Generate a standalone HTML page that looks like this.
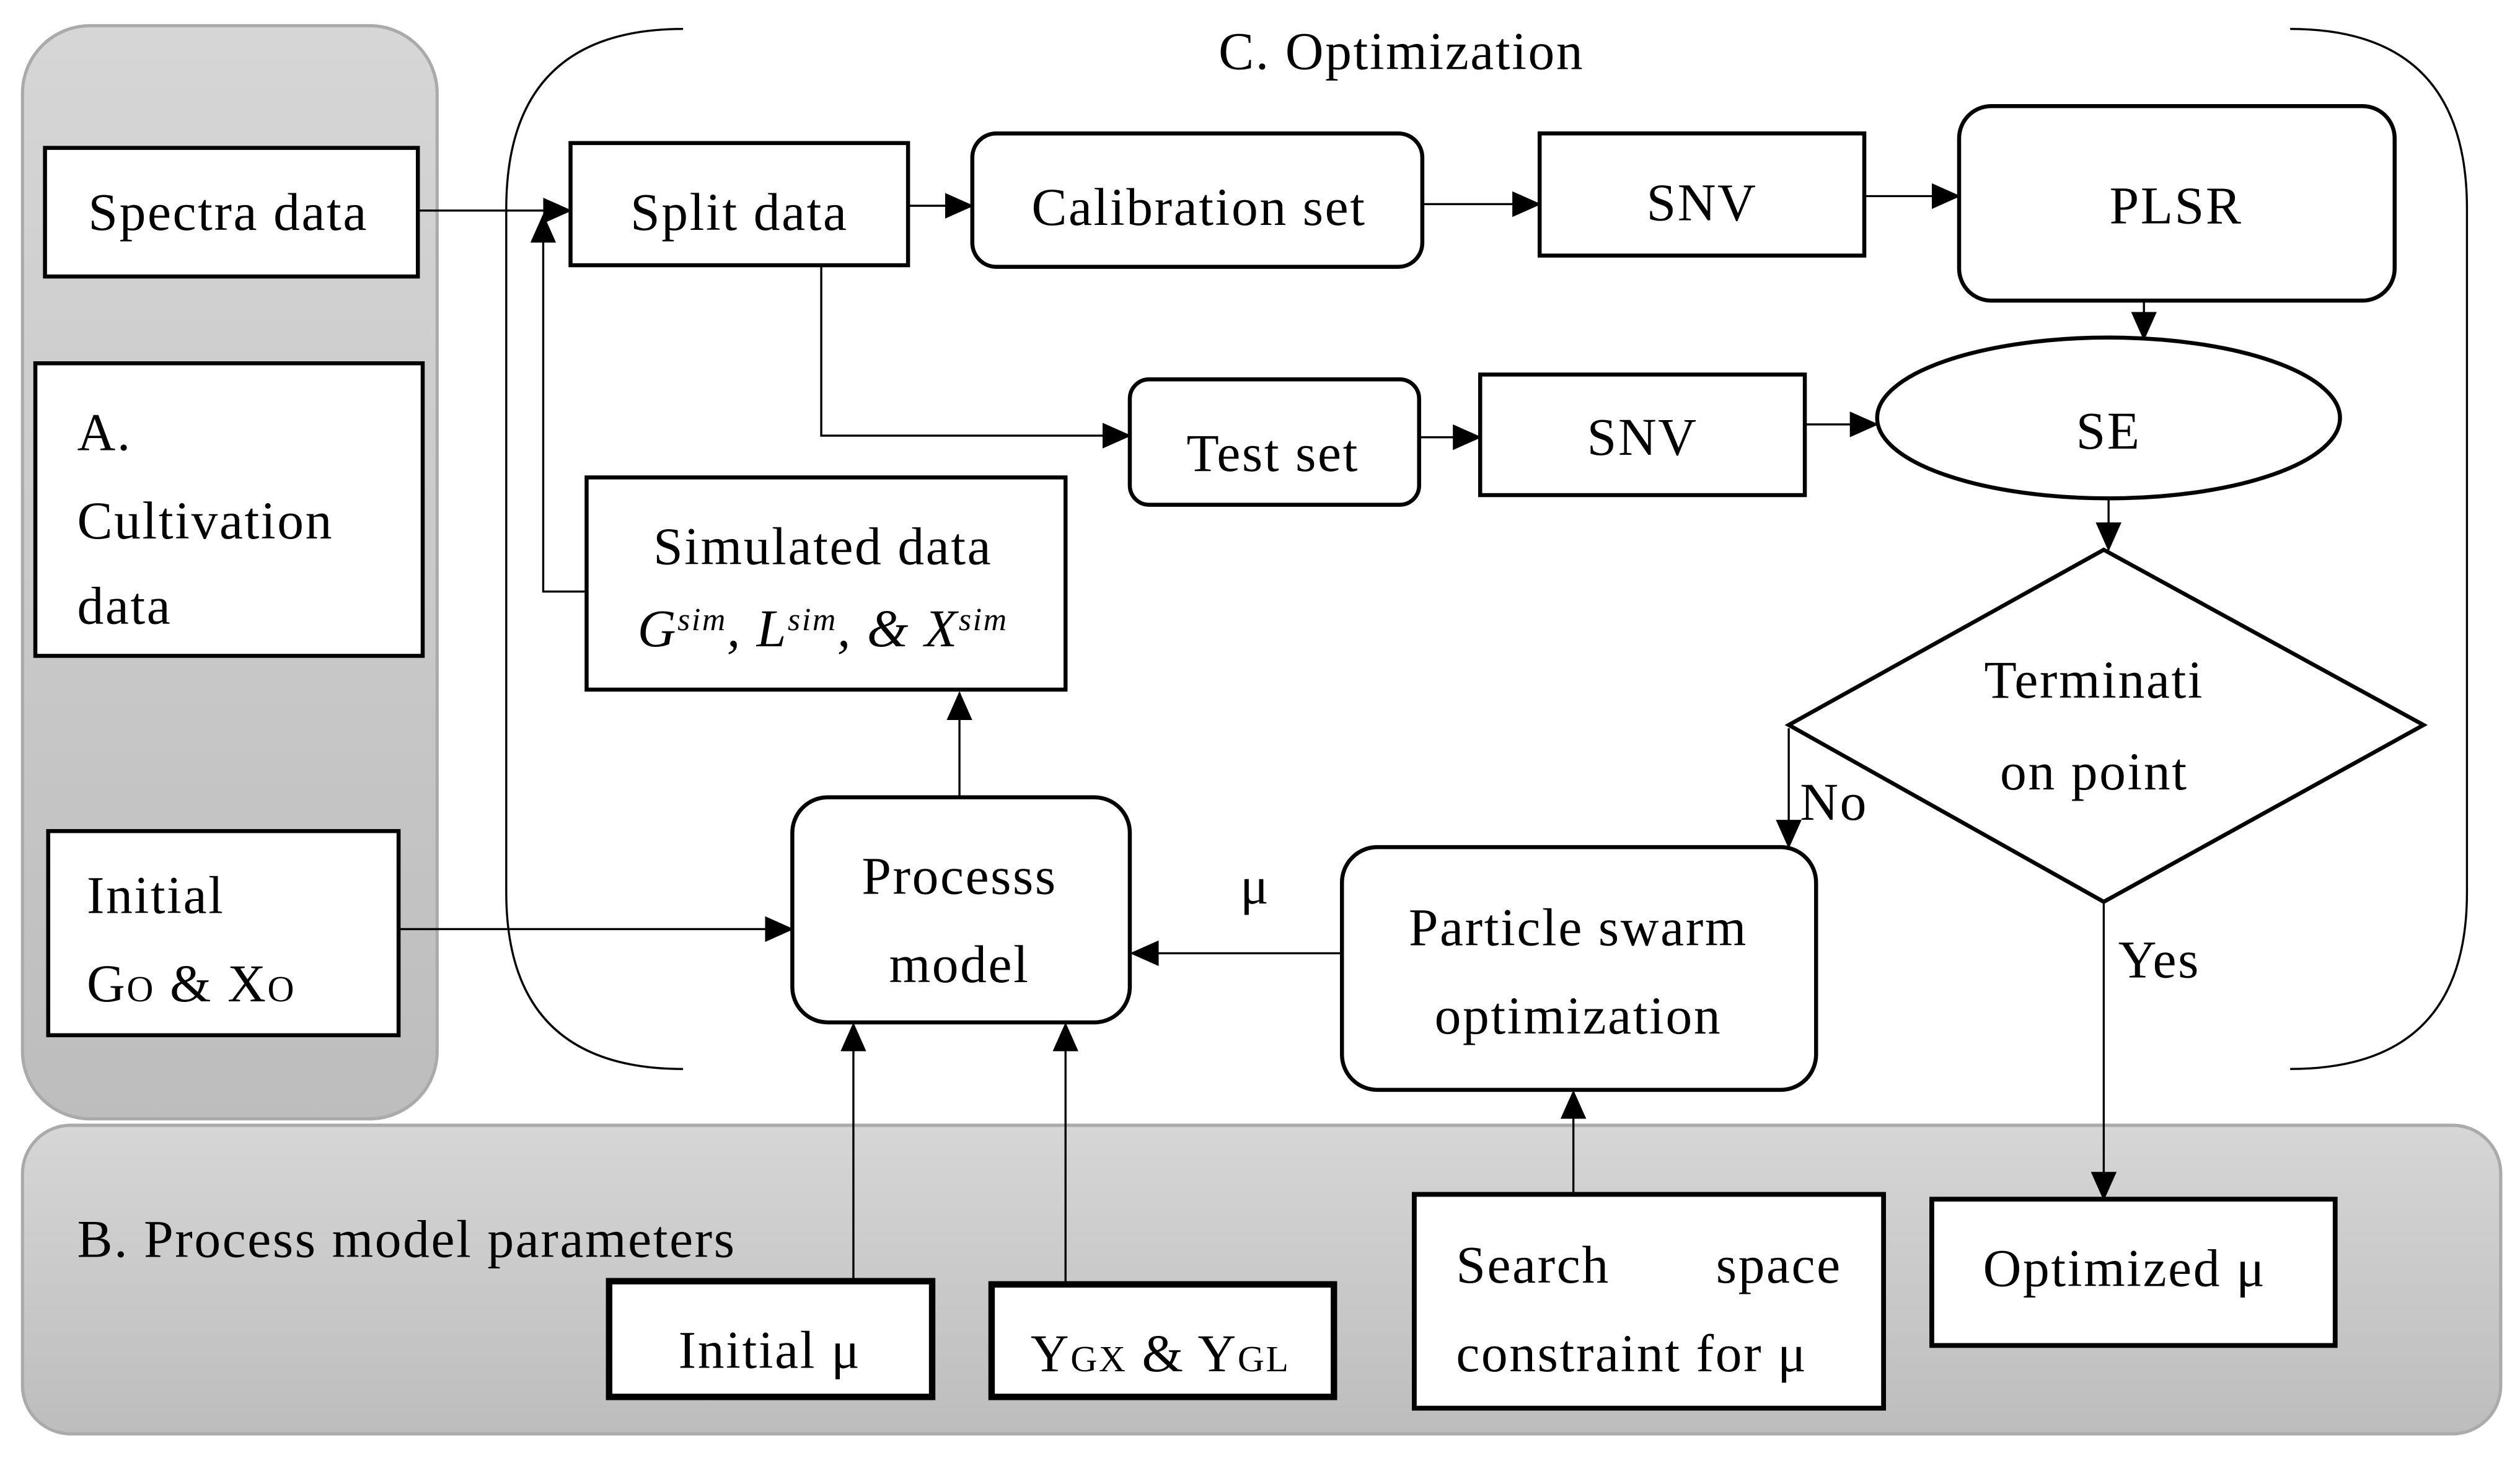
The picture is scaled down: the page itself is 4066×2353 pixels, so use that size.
<!DOCTYPE html>
<html><head><meta charset="utf-8"><style>
html,body{margin:0;padding:0;background:#fff}
svg{display:block}
text{font-family:"Liberation Serif",serif;font-size:33px;letter-spacing:1px;fill:#000}
</style></head><body>
<svg width="4066" height="2353" viewBox="0 0 1568 907" preserveAspectRatio="none" xmlns="http://www.w3.org/2000/svg">
<defs>
<linearGradient id="g" x1="0" y1="0" x2="0" y2="1"><stop offset="0" stop-color="#d6d6d6"/><stop offset="1" stop-color="#bdbdbd"/></linearGradient>
<marker id="a" markerUnits="userSpaceOnUse" markerWidth="18" markerHeight="16" refX="17" refY="8" orient="auto"><path d="M0,0 L18,8 L0,16 Z" fill="#000"/></marker>
</defs>
<rect x="14" y="16" width="258" height="680" rx="42" fill="url(#g)" stroke="#aaa" stroke-width="2"/>
<rect x="14" y="700" width="1542" height="192" rx="30" fill="url(#g)" stroke="#aaa" stroke-width="2"/>
<g fill="none" stroke="#000" stroke-width="1.3">
<path d="M425,18 Q315,18 315,130 L315,555 Q315,665 425,665"/>
<path d="M1425,18 Q1535,18 1535,130 L1535,555 Q1535,665 1425,665"/>
</g>
<g fill="#fff" stroke="#000" stroke-width="2.5">
<rect x="28" y="92" width="232" height="80"/>
<rect x="22" y="226" width="241" height="182"/>
<rect x="30" y="517" width="218" height="127"/>
<rect x="355" y="89" width="210" height="76"/>
<rect x="605" y="83" width="280" height="83" rx="15"/>
<rect x="958" y="83" width="202" height="76"/>
<rect x="1219" y="66" width="271" height="121" rx="20"/>
<rect x="703" y="236" width="180" height="78" rx="12"/>
<rect x="921" y="233" width="202" height="75"/>
<ellipse cx="1312" cy="260" rx="144" ry="50"/>
<path d="M1309,342 L1508,451 L1309,561 L1113,451 Z"/>
<rect x="365" y="297" width="298" height="132"/>
<rect x="493" y="496" width="210" height="140" rx="22"/>
<rect x="835" y="527" width="295" height="151" rx="22"/>
<rect x="379" y="797" width="201" height="72" stroke-width="4"/>
<rect x="617" y="799" width="213" height="70" stroke-width="4"/>
<rect x="880" y="743" width="292" height="133" stroke-width="3"/>
<rect x="1202" y="746" width="251" height="91" stroke-width="3"/>
</g>
<g fill="none" stroke="#000" stroke-width="1.3" marker-end="url(#a)">
<path d="M260,131 L355,131"/>
<path d="M565,128 L605,128"/>
<path d="M885,127 L958,127"/>
<path d="M1160,122 L1219,122"/>
<path d="M1334,187 L1334,211"/>
<path d="M511,165 L511,271 L703,271"/>
<path d="M883,272 L921,272"/>
<path d="M1123,264 L1168,264"/>
<path d="M1312,310 L1312,342"/>
<path d="M1113,453 L1113,527"/>
<path d="M1309,561 L1309,746"/>
<path d="M835,593 L704,593"/>
<path d="M597,496 L597,431"/>
<path d="M365,368 L338,368 L338,134"/>
<path d="M248,578 L493,578"/>
<path d="M531,797 L531,637"/>
<path d="M663,799 L663,637"/>
<path d="M979,743 L979,679"/>
</g>
<text x="872" y="43" text-anchor="middle">C. Optimization</text>
<text x="142" y="143" text-anchor="middle">Spectra data</text>
<text x="48" y="280">A.</text>
<text x="48" y="335">Cultivation</text>
<text x="48" y="388">data</text>
<text x="54" y="568">Initial</text>
<text x="54" y="623">G<tspan font-size="23">O</tspan> &amp; X<tspan font-size="23">O</tspan></text>
<text x="460" y="143" text-anchor="middle">Split data</text>
<text x="746" y="140" text-anchor="middle">Calibration set</text>
<text x="1059" y="137" text-anchor="middle">SNV</text>
<text x="1354" y="139" text-anchor="middle">PLSR</text>
<text x="792" y="293" text-anchor="middle">Test set</text>
<text x="1022" y="283" text-anchor="middle">SNV</text>
<text x="1312" y="279" text-anchor="middle">SE</text>
<text x="1303" y="434" text-anchor="middle">Terminati</text>
<text x="1303" y="491" text-anchor="middle">on point</text>
<text x="512" y="351" text-anchor="middle">Simulated data</text>
<text x="512" y="402" text-anchor="middle" font-style="italic" font-size="29">G<tspan font-size="20" dy="-10">sim</tspan><tspan dy="10">, L</tspan><tspan font-size="20" dy="-10">sim</tspan><tspan dy="10">, &amp; X</tspan><tspan font-size="20" dy="-10">sim</tspan></text>
<text x="597" y="556" text-anchor="middle">Processs</text>
<text x="597" y="611" text-anchor="middle">model</text>
<text x="982" y="588" text-anchor="middle">Particle swarm</text>
<text x="982" y="643" text-anchor="middle">optimization</text>
<text x="781" y="562" text-anchor="middle">μ</text>
<text x="1120" y="510">No</text>
<text x="1318" y="608">Yes</text>
<text x="48" y="782">B. Process model parameters</text>
<text x="479" y="851" text-anchor="middle">Initial μ</text>
<text x="722" y="853" text-anchor="middle">Y<tspan font-size="23">GX</tspan> &amp; Y<tspan font-size="23">GL</tspan></text>
<text x="906" y="798">Search</text>
<text x="1146" y="798" text-anchor="end">space</text>
<text x="906" y="853">constraint for μ</text>
<text x="1322" y="800" text-anchor="middle">Optimized μ</text>
</svg>
</body></html>
